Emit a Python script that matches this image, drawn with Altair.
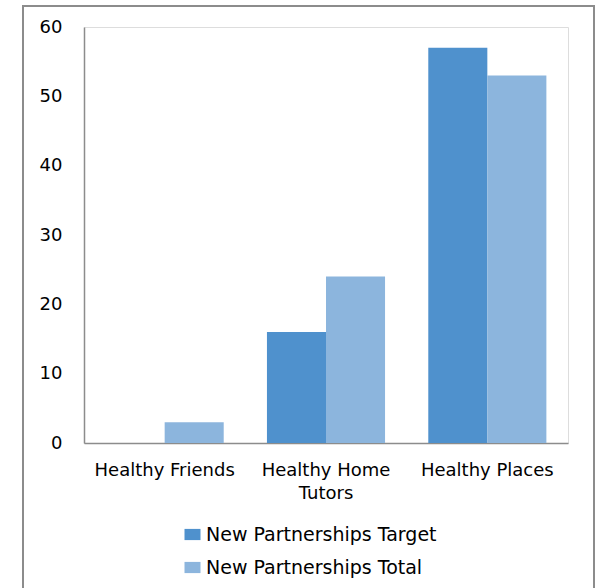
import altair as alt
import pandas as pd

# Partnership counts per programme
categories = ["Healthy Friends", "Healthy Home Tutors", "Healthy Places"]
target_values = [0, 16, 57]
total_values = [3, 24, 53]
series_names = ["New Partnerships Target", "New Partnerships Total"]
series_colors = ["#4F91CD", "#8CB5DD"]

rows = []
for cat, t, tot in zip(categories, target_values, total_values):
    rows.append({"category": cat, "series": series_names[0], "value": t})
    rows.append({"category": cat, "series": series_names[1], "value": tot})
df = pd.DataFrame(rows)

FONT = "DejaVu Sans"

bars = alt.Chart(df).mark_bar(strokeWidth=0).encode(
    x=alt.X(
        "category:N",
        sort=categories,
        title=None,
        scale=alt.Scale(paddingInner=0.268, paddingOuter=0.134),
        axis=alt.Axis(
            labelAngle=0,
            labelFont=FONT,
            labelFontSize=18,
            labelColor="#000000",
            labelPadding=18,
            labelLineHeight=23,
            labelLimit=0,
            labelExpr="datum.value == 'Healthy Home Tutors' ? ['Healthy Home', 'Tutors'] : datum.value",
            ticks=False,
            domainColor="#8C8C8C",
            domainWidth=1.5,
        ),
    ),
    xOffset=alt.XOffset("series:N", sort=series_names, scale=alt.Scale(paddingInner=0, paddingOuter=0)),
    y=alt.Y(
        "value:Q",
        title=None,
        scale=alt.Scale(domain=[0, 60]),
        axis=alt.Axis(
            values=[0, 10, 20, 30, 40, 50, 60],
            grid=False,
            ticks=False,
            labelFont=FONT,
            labelFontSize=18,
            labelColor="#000000",
            labelPadding=22,
            domainColor="#8C8C8C",
            domainWidth=1.5,
        ),
    ),
    color=alt.Color(
        "series:N",
        sort=series_names,
        scale=alt.Scale(domain=series_names, range=series_colors),
        legend=alt.Legend(
            title=None,
            orient="none",
            legendX=99,
            legendY=498,
            direction="vertical",
            symbolType="M-1,-0.7L1,-0.7L1,0.7L-1,0.7Z",
            symbolSize=256,
            symbolStrokeWidth=0,
            labelFont=FONT,
            labelFontSize=19,
            labelColor="#000000",
            labelOffset=4,
            labelLimit=0,
            rowPadding=13,
            padding=0,
        ),
    ),
)

# Outer chart border
frame = alt.Chart(alt.Data(values=[{}])).mark_rect(
    fill=None, stroke="#8C8C8C", strokeWidth=2
).encode(
    x=alt.value(-61),
    x2=alt.value(510),
    y=alt.value(-21),
    y2=alt.value(620),
)

chart = alt.layer(frame, bars).properties(
    width=484,
    height=416,
    autosize=alt.AutoSizeParams(type="none"),
    padding={"left": 84, "top": 27, "right": 28, "bottom": 145},
).configure_view(stroke=None).configure(background="#FFFFFF")

chart.save("out.html", embed_options={"renderer": "svg", "actions": False})
